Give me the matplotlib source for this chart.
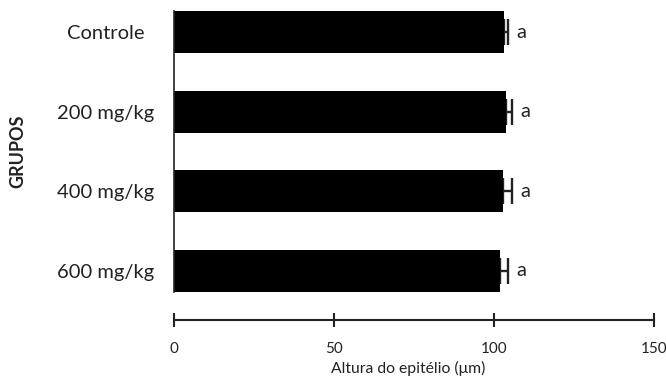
import numpy as np
import matplotlib
matplotlib.use("Agg")
import matplotlib.pyplot as plt

plt.rcParams["font.family"] = ["Lato", "DejaVu Sans"]

# mean epithelium height per group and its standard error
grupos = ["Controle", "200 mg/kg", "400 mg/kg", "600 mg/kg"]
medias = [103.0, 103.7, 102.7, 101.9]
erros = [1.3, 1.8, 2.8, 2.6]
letras = ["a", "a", "a", "a"]

ink = "#222222"

fig = plt.figure(figsize=(6.66, 3.82), dpi=100)
ax = fig.add_axes([174 / 666, 1 - 292 / 382, 480 / 666, 281 / 382])

y = np.arange(len(grupos))
h = 0.53
ax.barh(y, medias, height=h, color="black", zorder=2)
# one-sided error bars; the part inside the bar is hidden behind it
ax.errorbar(
    medias, y,
    xerr=[np.zeros(len(medias)), erros],
    fmt="none", ecolor=ink, elinewidth=1.7, capsize=9.7, capthick=1.7, zorder=1,
)
for yi, m, e, s in zip(y, medias, erros, letras):
    ax.text(m + e + 2.6, yi, s, ha="left", va="center", fontsize=14.5, color=ink)

ax.set_xlim(0, 150)
ax.set_ylim(len(grupos) - 1 + h / 2, -h / 2)
ax.set_yticks(y)
ax.set_yticklabels(grupos, fontsize=14.5, color=ink)
for lab in ax.get_yticklabels():
    lab.set_horizontalalignment("center")
ax.tick_params(axis="y", length=0, pad=49.5)

ax.set_xticks([0, 50, 100, 150])
ax.tick_params(axis="x", direction="inout", length=10, width=1.5, color=ink,
               labelsize=11, labelcolor=ink, pad=11)
ax.set_xlabel("Altura do epitélio (μm)", fontsize=11.3, color=ink)
ax.xaxis.set_label_coords(0.487, -0.245)

for side in ("top", "right"):
    ax.spines[side].set_visible(False)
ax.spines["bottom"].set_position(("outward", 20))
ax.spines["bottom"].set_linewidth(1.5)
ax.spines["bottom"].set_color(ink)
ax.spines["left"].set_linewidth(1.2)
ax.spines["left"].set_color(ink)

fig.text(17.5 / 666, 1 - 151 / 382, "GRUPOS", rotation=90, ha="center", va="center",
         fontsize=13, fontweight="bold", color=ink)

fig.savefig("out.png", dpi=100)
